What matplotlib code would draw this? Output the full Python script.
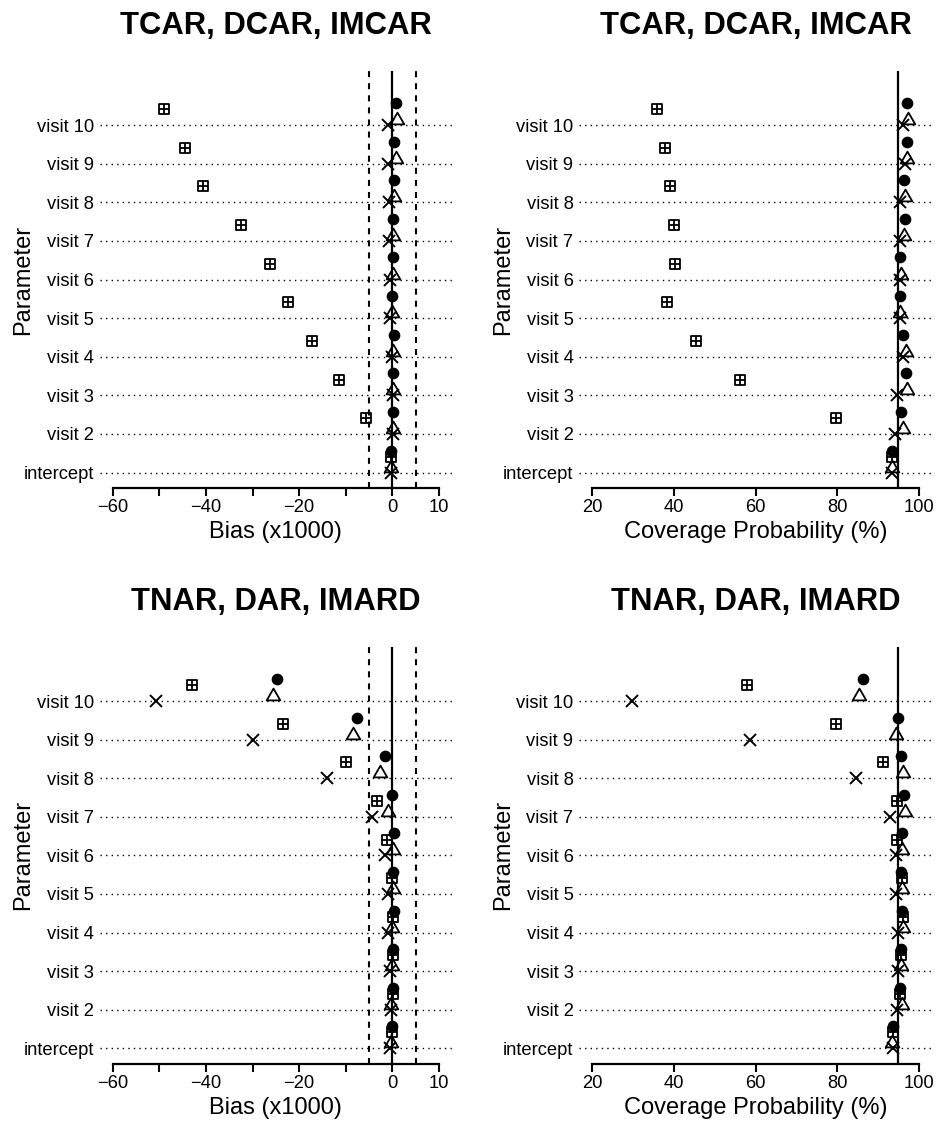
import numpy as np
import matplotlib.pyplot as plt
from matplotlib.path import Path

plt.rcParams['font.family'] = ['Liberation Sans', 'DejaVu Sans']

# Parametros (de abajo hacia arriba)
params = ['intercept', 'visit 2', 'visit 3', 'visit 4', 'visit 5',
          'visit 6', 'visit 7', 'visit 8', 'visit 9', 'visit 10']

# Fila superior: TCAR, DCAR, IMCAR
bias1_circle = [-0.3, 0.2, 0.2, 0.3, -0.1, 0.2, 0.1, 0.3, 0.4, 0.7]
bias1_square = [-0.3, -5.6, -11.4, -17.2, -22.4, -26.2, -32.4, -40.7, -44.5, -49.1]
bias1_triangle = [-0.3, 0.1, 0.2, 0.2, 0.0, 0.2, 0.2, 0.4, 0.7, 0.9]
bias1_cross = [-0.3, 0.1, 0.1, -0.1, -0.5, -0.5, -0.8, -0.8, -0.9, -0.9]

cov1_circle = [93.5, 95.7, 96.8, 96.2, 95.5, 95.5, 96.7, 96.3, 97.0, 97.2]
cov1_square = [93.5, 79.6, 56.1, 45.4, 38.2, 40.3, 39.9, 39.1, 37.7, 35.9]
cov1_triangle = [93.4, 96.2, 97.1, 96.8, 95.3, 95.7, 96.4, 96.6, 97.1, 97.4]
cov1_cross = [93.5, 94.1, 94.7, 96.2, 95.5, 95.5, 95.5, 95.3, 96.7, 96.2]

# Fila inferior: TNAR, DAR, IMARD
bias2_circle = [0.0, 0.1, 0.2, 0.4, 0.2, 0.4, 0.0, -1.6, -7.6, -24.8]
bias2_square = [-0.1, 0.1, 0.1, 0.2, -0.1, -1.2, -3.3, -10.0, -23.5, -42.9]
bias2_triangle = [-0.3, -0.3, 0.0, 0.0, 0.1, 0.2, -0.9, -2.6, -8.5, -25.7]
bias2_cross = [-0.5, -0.3, -0.5, -0.9, -1.0, -1.6, -4.4, -14.1, -29.8, -50.7]

cov2_circle = [93.7, 95.5, 95.6, 95.9, 95.7, 95.9, 96.3, 95.7, 94.9, 86.3]
cov2_square = [93.7, 95.5, 95.7, 96.2, 96.0, 94.7, 94.7, 91.3, 79.7, 57.8]
cov2_triangle = [93.5, 96.0, 95.6, 96.2, 96.0, 96.0, 96.6, 96.2, 94.5, 85.3]
cov2_cross = [93.7, 94.7, 94.9, 94.9, 94.5, 94.5, 93.0, 84.6, 58.6, 29.6]

titles = ['TCAR, DCAR, IMCAR', 'TNAR, DAR, IMARD']

# Marcadores tipo R: cuadrado con cruz y triangulo equilatero
sq_plus = Path([(-1, -1), (1, -1), (1, 1), (-1, 1), (-1, -1),
                (0, -1), (0, 1), (-1, 0), (1, 0)],
               [Path.MOVETO, Path.LINETO, Path.LINETO, Path.LINETO, Path.CLOSEPOLY,
                Path.MOVETO, Path.LINETO, Path.MOVETO, Path.LINETO])
tri = Path([(-1, -0.866), (1, -0.866), (0, 0.866), (-1, -0.866)],
           [Path.MOVETO, Path.LINETO, Path.LINETO, Path.CLOSEPOLY])

W, H = 936, 1128
fig = plt.figure(figsize=(W / 100, H / 100), dpi=100)


def panel(left_px, top_px, bottom_px, right_px, kind, title, circ, sq, tr, cr):
    ax = fig.add_axes([left_px / W, 1 - bottom_px / H,
                       (right_px - left_px) / W, (bottom_px - top_px) / H])
    y = np.arange(1, len(params) + 1)
    for yy in y:
        ax.axhline(yy, color='black', lw=1.0, ls=(0, (1, 3)), zorder=1)
    if kind == 'bias':
        ax.axvline(0, color='black', lw=1.6, zorder=2)
        for v in (-5, 5):
            ax.axvline(v, color='black', lw=1.5, ls=(0, (2.9, 2.9)), zorder=2)
        ax.set_xlim(-62.8, 12.8)
        ax.set_xticks(range(-60, 11, 10))
        ax.set_xticklabels(['\u221260', '', '\u221240', '', '\u221220', '', '0', '10'])
        ax.spines['bottom'].set_bounds(-60, 10)
        xlabel = 'Bias (x1000)'
    else:
        ax.axvline(95, color='black', lw=1.6, zorder=2)
        ax.set_xlim(16.8, 103.2)
        ax.set_xticks([20, 40, 60, 80, 100])
        ax.spines['bottom'].set_bounds(20, 100)
        xlabel = 'Coverage Probability (%)'

    ax.plot(circ, y + 0.57, ls='none', marker='o', ms=7.4, mfc='black',
            mec='black', zorder=3)
    ax.plot(sq, y + 0.41, ls='none', marker=sq_plus, ms=7.2, mfc='none',
            mec='black', mew=1.3, zorder=3)
    ax.plot(tr, y + 0.18, ls='none', marker=tri, ms=9.8, mfc='none',
            mec='black', mew=1.3, zorder=3)
    ax.plot(cr, y, ls='none', marker='x', ms=8.2, mec='black', mew=1.4, zorder=3)

    ax.set_ylim(0.6, 11.4)
    ax.set_yticks(y)
    ax.set_yticklabels(params)
    for s in ('top', 'right', 'left'):
        ax.spines[s].set_visible(False)
    ax.spines['bottom'].set_linewidth(1.6)
    ax.tick_params(axis='y', length=0, pad=4.2, labelsize=13.2)
    ax.tick_params(axis='x', length=5.8, width=1.5, pad=2.4, labelsize=13.2)

    hpx = bottom_px - top_px
    wpx = right_px - left_px
    ax.text(0.5, 1 + 37 / hpx, title, transform=ax.transAxes, ha='center',
            va='baseline', fontsize=22.3, fontweight='bold')
    ax.text(0.5, -50 / hpx, xlabel, transform=ax.transAxes, ha='center',
            va='baseline', fontsize=17)
    ax.text(-76.2 / wpx, 0.5, 'Parameter', transform=ax.transAxes, ha='center',
            va='center', rotation=90, fontsize=17)
    return ax


panel(99.7, 71, 488, 452, 'bias', titles[0],
      bias1_circle, bias1_square, bias1_triangle, bias1_cross)
panel(579.3, 71, 488, 931.8, 'cov', titles[0],
      cov1_circle, cov1_square, cov1_triangle, cov1_cross)
panel(99.7, 647, 1063.7, 452, 'bias', titles[1],
      bias2_circle, bias2_square, bias2_triangle, bias2_cross)
panel(579.3, 647, 1063.7, 931.8, 'cov', titles[1],
      cov2_circle, cov2_square, cov2_triangle, cov2_cross)

fig.savefig('out.png', dpi=100)
